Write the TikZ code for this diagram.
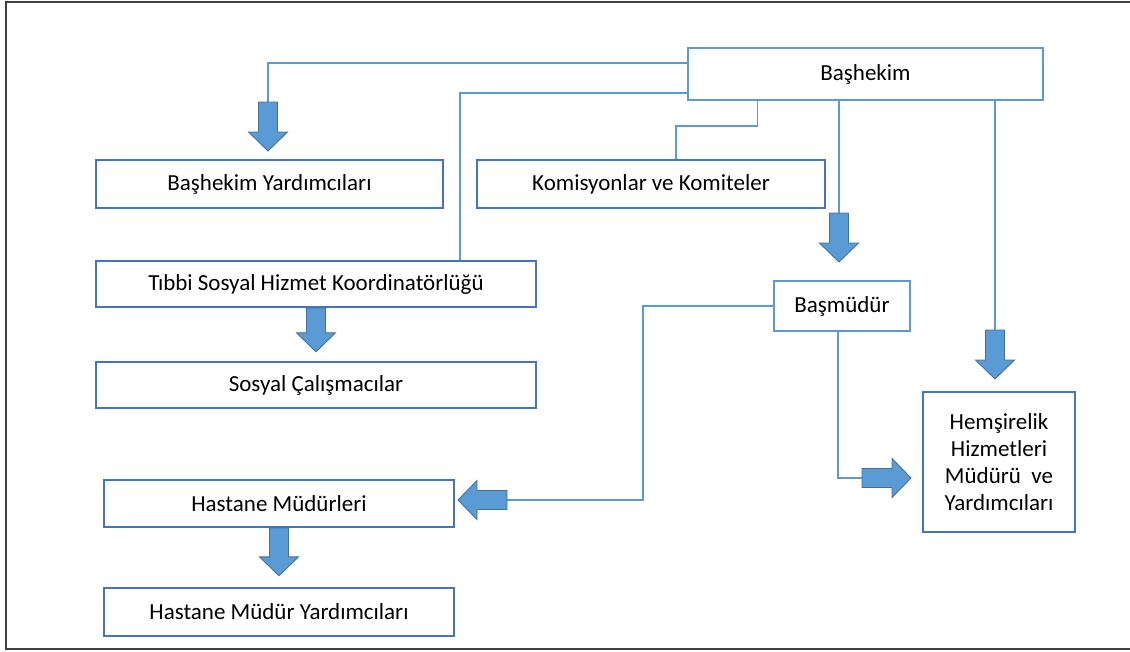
\documentclass[tikz,border=0pt]{standalone}
\usepackage{fontspec}
\setmainfont{Carlito}
\definecolor{boxblue}{HTML}{4472C4}
\definecolor{lineblue}{HTML}{5B9BD5}
\definecolor{arrowedge}{HTML}{41719C}
\tikzset{
  unit/.style={draw=boxblue, line width=1.6pt, fill=white, font=\fontsize{23}{27}\selectfont, align=center, inner sep=0pt},
  headbox/.style={unit, draw=lineblue},
  link/.style={draw=lineblue, line width=1.5pt},
  blockarrow/.style={fill=lineblue, draw=arrowedge, line width=0.9pt, line join=miter}
}
% #1 start, #2 angle, #3 length
\newcommand{\blockarrow}[3]{%
  \draw[blockarrow, shift={(#1)}, rotate=#2] (0,-9.5) -- (#3-19,-9.5) -- (#3-19,-19.5) -- (#3,0)
    -- (#3-19,19.5) -- (#3-19,9.5) -- (0,9.5) -- cycle;}
\begin{document}
\begin{tikzpicture}[x=1pt, y=-1pt]
    \useasboundingbox (0,0) rectangle (1130,651);
    \draw[line width=1.4pt, black!75] (1140,2) -- (6,2) -- (6,649) -- (1140,649);

    \node[headbox, minimum width=355pt, minimum height=52pt] (bas) at (865.5,74) {Başhekim};
    \node[unit, minimum width=347pt, minimum height=48pt] (yard) at (269.5,184) {Başhekim Yardımcıları};
    \node[unit, minimum width=348pt, minimum height=48pt] (kom) at (651,184) {Komisyonlar ve Komiteler};
    \node[unit, minimum width=440pt, minimum height=46pt] (tib) at (316,284) {Tıbbi Sosyal Hizmet Koordinatörlüğü};
    \node[unit, minimum width=440pt, minimum height=46pt] (sos) at (316,385) {Sosyal Çalışmacılar};
    \node[headbox, minimum width=136pt, minimum height=50pt] (basm) at (842,306) {Başmüdür};
    \node[unit, minimum width=152pt, minimum height=140pt] (hem) at (999,462) {Hemşirelik\\Hizmetleri\\Müdürü~ ve\\Yardımcıları};
    \node[unit, minimum width=350pt, minimum height=47pt] (hmud) at (279,503.5) {Hastane Müdürleri};
    \node[unit, minimum width=350pt, minimum height=48pt] (hmy) at (279,612) {Hastane Müdür Yardımcıları};

    \coordinate (a1) at (268,102);
    \coordinate (k1) at (676,126);
    \coordinate (a2) at (839,213);
    \coordinate (a3) at (995,330);
    \coordinate (a4) at (507,500);
    \coordinate (a5) at (862,478);

    \draw[link] ([yshift=11pt]bas.west) -| (a1);
    \draw[link] ([yshift=-19pt]bas.west) -| ([xshift=144pt]tib.north);
    \draw[link] ([xshift=-108pt]bas.south) |- (k1) -- (k1 |- kom.north);
    \draw[link] (a2 |- bas.south) -- (a2);
    \draw[link] (a3 |- bas.south) -- (a3);
    \draw[link] (basm.west) -| (643,500) -- (a4);
    \draw[link] ([xshift=-4pt]basm.south) |- (a5);

    \blockarrow{a1}{-90}{49}
    \blockarrow{a2}{-90}{49}
    \blockarrow{a3}{-90}{49}
    \blockarrow{a4}{180}{49}
    \blockarrow{a5}{0}{49}
    \blockarrow{tib.south}{-90}{44}
    \blockarrow{hmud.south}{-90}{48}
\end{tikzpicture}
\end{document}
